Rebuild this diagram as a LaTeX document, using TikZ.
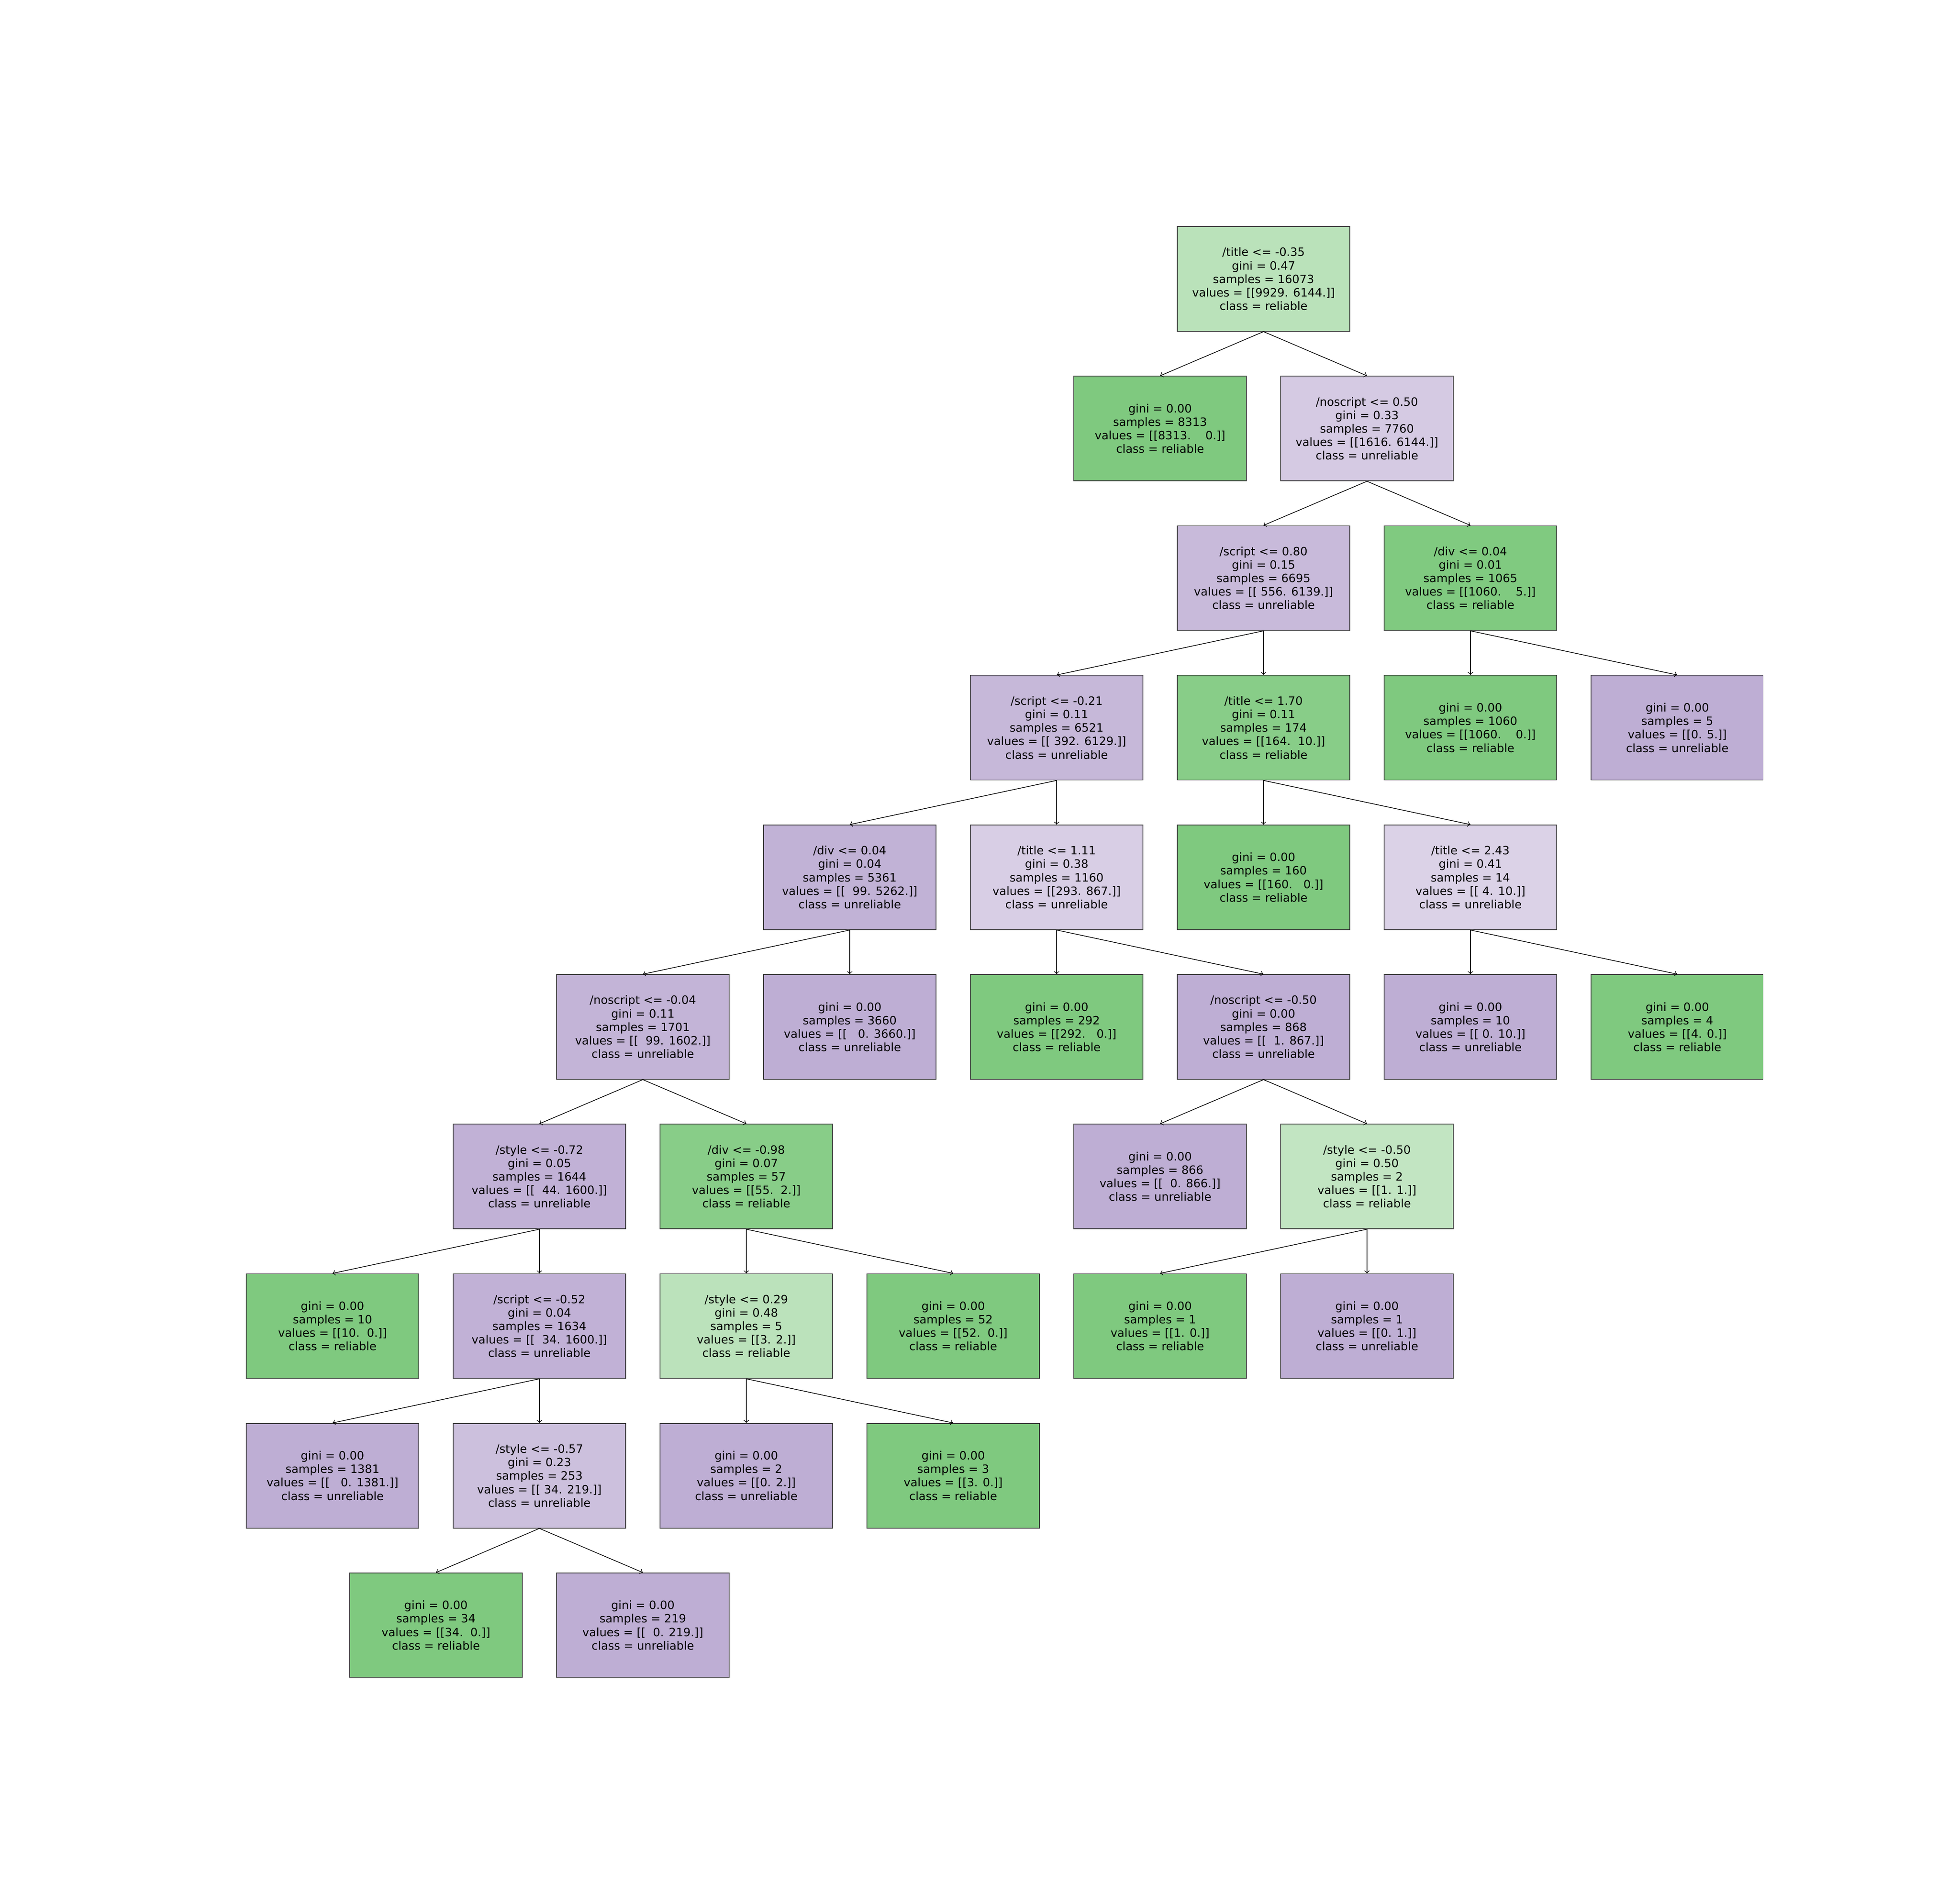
\documentclass[tikz,border=0pt]{standalone}
\usepackage{fontspec}
\setmainfont{DejaVu Sans}
\usepackage{xcolor}
\usepackage{tikz}
\usetikzlibrary{positioning}

\definecolor{rel}{HTML}{7FC97F}
\definecolor{unrel}{HTML}{BEAED4}

\begin{document}
\begin{tikzpicture}
                [x=2.47cm, y=3.572cm,
                 box/.style = {draw=black!75, line width=0.5pt, rectangle, minimum width=4.12cm,
                               minimum height=2.5cm, inner sep=0pt, align=center,
                               font=\fontsize{7.8}{9.15}\selectfont},
                 edge line/.style = {line width=0.45pt}]

                \useasboundingbox (-30.17cm,6.66cm) rectangle (16.63cm,-38.34cm);

                \begin{scope}
                \clip (-30.17cm,6.66cm) rectangle (11.93cm,-33.39cm);

                \node[box,fill=rel!54] (a) at (0,0) {/title <= -0.35\\gini = 0.47\\samples = 16073\\values = [[9929. 6144.]]\\class = reliable};

                \node[box,fill=rel] (b) at (-1,-1) {gini = 0.00\\samples = 8313\\values = [[8313.~~~~0.]]\\class = reliable};
                \node[box,fill=unrel!65] (c) at (1,-1) {/noscript <= 0.50\\gini = 0.33\\samples = 7760\\values = [[1616. 6144.]]\\class = unreliable};

                \node[box,fill=unrel!85] (d) at (0,-2) {/script <= 0.80\\gini = 0.15\\samples = 6695\\values = [[~556. 6139.]]\\class = unreliable};
                \node[box,fill=rel!99] (e) at (2,-2) {/div <= 0.04\\gini = 0.01\\samples = 1065\\values = [[1060.~~~~5.]]\\class = reliable};

                \node[box,fill=unrel!88] (f) at (-2,-3) {/script <= -0.21\\gini = 0.11\\samples = 6521\\values = [[~392. 6129.]]\\class = unreliable};
                \node[box,fill=rel!93] (g) at (0,-3) {/title <= 1.70\\gini = 0.11\\samples = 174\\values = [[164.~~10.]]\\class = reliable};
                \node[box,fill=rel] (h) at (2,-3) {gini = 0.00\\samples = 1060\\values = [[1060.~~~~0.]]\\class = reliable};
                \node[box,fill=unrel] (i) at (4,-3) {gini = 0.00\\samples = 5\\values = [[0. 5.]]\\class = unreliable};

                \node[box,fill=unrel!95] (j) at (-4,-4) {/div <= 0.04\\gini = 0.04\\samples = 5361\\values = [[~~99. 5262.]]\\class = unreliable};
                \node[box,fill=unrel!60] (k) at (-2,-4) {/title <= 1.11\\gini = 0.38\\samples = 1160\\values = [[293. 867.]]\\class = unreliable};
                \node[box,fill=rel] (l) at (0,-4) {gini = 0.00\\samples = 160\\values = [[160.~~~0.]]\\class = reliable};
                \node[box,fill=unrel!55] (m) at (2,-4) {/title <= 2.43\\gini = 0.41\\samples = 14\\values = [[~4. 10.]]\\class = unreliable};

                \node[box,fill=unrel!92] (n) at (-6,-5) {/noscript <= -0.04\\gini = 0.11\\samples = 1701\\values = [[~~99. 1602.]]\\class = unreliable};
                \node[box,fill=unrel] (o) at (-4,-5) {gini = 0.00\\samples = 3660\\values = [[~~~0. 3660.]]\\class = unreliable};
                \node[box,fill=rel] (p) at (-2,-5) {gini = 0.00\\samples = 292\\values = [[292.~~~0.]]\\class = reliable};
                \node[box,fill=unrel] (q) at (0,-5) {/noscript <= -0.50\\gini = 0.00\\samples = 868\\values = [[~~1. 867.]]\\class = unreliable};
                \node[box,fill=unrel] (r) at (2,-5) {gini = 0.00\\samples = 10\\values = [[~0. 10.]]\\class = unreliable};
                \node[box,fill=rel] (s) at (4,-5) {gini = 0.00\\samples = 4\\values = [[4. 0.]]\\class = reliable};

                \node[box,fill=unrel!96] (t) at (-7,-6) {/style <= -0.72\\gini = 0.05\\samples = 1644\\values = [[~~44. 1600.]]\\class = unreliable};
                \node[box,fill=rel!93] (u) at (-5,-6) {/div <= -0.98\\gini = 0.07\\samples = 57\\values = [[55.~~2.]]\\class = reliable};
                \node[box,fill=unrel] (v) at (-1,-6) {gini = 0.00\\samples = 866\\values = [[~~0. 866.]]\\class = unreliable};
                \node[box,fill=rel!48] (w) at (1,-6) {/style <= -0.50\\gini = 0.50\\samples = 2\\values = [[1. 1.]]\\class = reliable};

                \node[box,fill=rel] (x) at (-9,-7) {gini = 0.00\\samples = 10\\values = [[10.~~0.]]\\class = reliable};
                \node[box,fill=unrel!96] (y) at (-7,-7) {/script <= -0.52\\gini = 0.04\\samples = 1634\\values = [[~~34. 1600.]]\\class = unreliable};
                \node[box,fill=rel!53] (z) at (-5,-7) {/style <= 0.29\\gini = 0.48\\samples = 5\\values = [[3. 2.]]\\class = reliable};
                \node[box,fill=rel] (A) at (-3,-7) {gini = 0.00\\samples = 52\\values = [[52.~~0.]]\\class = reliable};
                \node[box,fill=rel] (B) at (-1,-7) {gini = 0.00\\samples = 1\\values = [[1. 0.]]\\class = reliable};
                \node[box,fill=unrel] (C) at (1,-7) {gini = 0.00\\samples = 1\\values = [[0. 1.]]\\class = unreliable};

                \node[box,fill=unrel] (D) at (-9,-8) {gini = 0.00\\samples = 1381\\values = [[~~~0. 1381.]]\\class = unreliable};
                \node[box,fill=unrel!78] (E) at (-7,-8) {/style <= -0.57\\gini = 0.23\\samples = 253\\values = [[~34. 219.]]\\class = unreliable};
                \node[box,fill=unrel] (F) at (-5,-8) {gini = 0.00\\samples = 2\\values = [[0. 2.]]\\class = unreliable};
                \node[box,fill=rel] (G) at (-3,-8) {gini = 0.00\\samples = 3\\values = [[3. 0.]]\\class = reliable};

                \node[box,fill=rel] (H) at (-8,-9) {gini = 0.00\\samples = 34\\values = [[34.~~0.]]\\class = reliable};
                \node[box,fill=unrel] (I) at (-6,-9) {gini = 0.00\\samples = 219\\values = [[~~0. 219.]]\\class = unreliable};

                \path[->,edge line] (a.south) edge (b.north);
                \path[->,edge line] (a.south) edge (c.north);
                \path[->,edge line] (c.south) edge (d.north);
                \path[->,edge line] (c.south) edge (e.north);
                \path[->,edge line] (d.south) edge (f.north);
                \path[->,edge line] (d.south) edge (g.north);
                \path[->,edge line] (e.south) edge (h.north);
                \path[->,edge line] (e.south) edge (i.north);
                \path[->,edge line] (f.south) edge (j.north);
                \path[->,edge line] (f.south) edge (k.north);
                \path[->,edge line] (g.south) edge (l.north);
                \path[->,edge line] (g.south) edge (m.north);
                \path[->,edge line] (j.south) edge (n.north);
                \path[->,edge line] (j.south) edge (o.north);
                \path[->,edge line] (k.south) edge (p.north);
                \path[->,edge line] (k.south) edge (q.north);
                \path[->,edge line] (m.south) edge (r.north);
                \path[->,edge line] (m.south) edge (s.north);
                \path[->,edge line] (n.south) edge (t.north);
                \path[->,edge line] (n.south) edge (u.north);
                \path[->,edge line] (q.south) edge (v.north);
                \path[->,edge line] (q.south) edge (w.north);
                \path[->,edge line] (t.south) edge (x.north);
                \path[->,edge line] (t.south) edge (y.north);
                \path[->,edge line] (u.south) edge (z.north);
                \path[->,edge line] (u.south) edge (A.north);
                \path[->,edge line] (w.south) edge (B.north);
                \path[->,edge line] (w.south) edge (C.north);
                \path[->,edge line] (y.south) edge (D.north);
                \path[->,edge line] (y.south) edge (E.north);
                \path[->,edge line] (z.south) edge (F.north);
                \path[->,edge line] (z.south) edge (G.north);
                \path[->,edge line] (E.south) edge (H.north);
                \path[->,edge line] (E.south) edge (I.north);
                \end{scope}

            \end{tikzpicture}
\end{document}
